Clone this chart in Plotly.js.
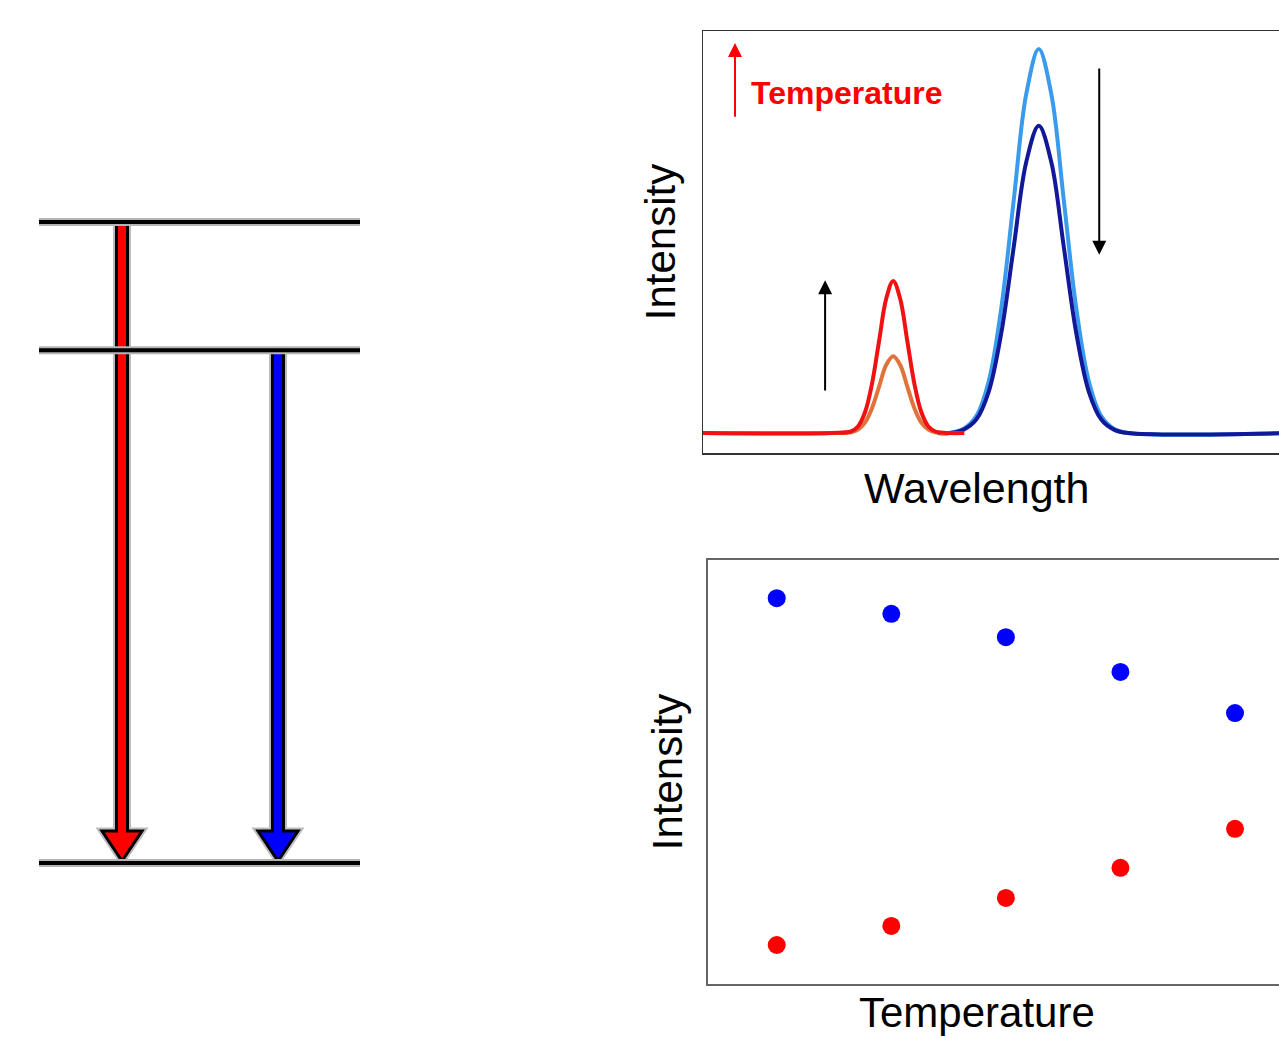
<!DOCTYPE html>
<html><head><meta charset="utf-8">
<script src="https://cdn.plot.ly/plotly-3.0.1.min.js"></script>
<style>html,body{margin:0;padding:0;overflow:hidden;background:#fff}#chart{width:1300px;height:1038px}</style>
</head><body><div id="chart"></div>
<script>
// ---------------- data ----------------
// energy level diagram (relative energies)
const levelEnergies = [0, 0.8, 1.0];
const transitionFrom = [2, 1];
const transitionTo = [0, 0];

// emission spectra (arbitrary wavelength units, normalised intensity)
const redWavelength = [0, 22, 25.2, 26.4, 27.6, 28.8, 30.0, 31.2, 32.4, 33.6, 34.8, 36.0, 37.2, 38.4, 39.6, 42, 44.5];
const redHighT = [0, 0, 0.004, 0.017, 0.054, 0.129, 0.240, 0.349, 0.396, 0.349, 0.240, 0.129, 0.054, 0.017, 0.004, 0, 0];
const redLowT  = [0, 0, 0.002, 0.009, 0.027, 0.065, 0.121, 0.177, 0.200, 0.177, 0.121, 0.065, 0.027, 0.009, 0.002, 0, 0];

const blueWavelength = [40, 42.0, 44.4, 46.55, 48.68, 50.81, 52.94, 55.07, 57.2, 59.33, 61.46, 63.59, 65.72, 67.85, 70.0, 72.4, 100];
const blueLowT  = [0, 0, 0.011, 0.044, 0.135, 0.325, 0.607, 0.883, 1.000, 0.883, 0.607, 0.325, 0.135, 0.044, 0.011, 0, 0];
const blueHighT = [0, 0, 0.009, 0.035, 0.108, 0.260, 0.485, 0.706, 0.800, 0.706, 0.485, 0.260, 0.108, 0.035, 0.009, 0, 0];

// intensity vs temperature
const temperature = [1, 2, 3, 4, 5];
const blueIntensity = [9.10, 8.73, 8.18, 7.36, 6.39];
const redIntensity  = [0.92, 1.37, 2.03, 2.74, 3.66];

// ---------------- layout helpers ----------------
const W = 1300, H = 1038;
const FONT = 'Liberation Sans, Arial, sans-serif';
const diagX = [-0.1215, 1.1246], diagY = [-0.2730, 1.3464];
const diagDomW = 400;
const pxX = diagDomW / (diagX[1] - diagX[0]);
const pxY = H / (diagY[1] - diagY[0]);
const arrowPos = [0.2586, 0.7445];
const arrowColors = ['#FF0000', '#0000FF'];

function arrowPath(xc, yTop, yBot) {
  const w = 5.5 / pxX, hw = 20 / pxX, hh = 30 / pxY, lift = 2 / pxY;
  const yb = yBot + lift;
  return `M${xc-w},${yTop} L${xc+w},${yTop} L${xc+w},${yb+hh} L${xc+hw},${yb+hh} L${xc},${yb} L${xc-hw},${yb+hh} L${xc-w},${yb+hh} Z`;
}

const shapes = [];
transitionFrom.forEach((f, i) => {
  const p = arrowPath(arrowPos[i], levelEnergies[f], levelEnergies[transitionTo[i]]);
  shapes.push({type:'path', path:p, xref:'x3', yref:'y3', layer:'below', fillcolor:arrowColors[i], line:{color:'#bcbcbc', width:7}});
  shapes.push({type:'path', path:p, xref:'x3', yref:'y3', layer:'below', fillcolor:arrowColors[i], line:{color:'#000000', width:3}});
});

const levX = [], levY = [];
levelEnergies.forEach((e, i) => { if (i) { levX.push(null); levY.push(null); } levX.push(0, 1); levY.push(e, e); });

const traces = [
  {x: levX, y: levY, xaxis:'x3', yaxis:'y3', mode:'lines', line:{color:'#b4b4b4', width:8}, hoverinfo:'skip'},
  {x: levX, y: levY, xaxis:'x3', yaxis:'y3', mode:'lines', line:{color:'#000000', width:4}, hoverinfo:'skip'},
  {x: blueWavelength, y: blueLowT, xaxis:'x', yaxis:'y', mode:'lines', line:{color:'#3A9AEC', width:4, shape:'spline'}},
  {x: blueWavelength, y: blueHighT, xaxis:'x', yaxis:'y', mode:'lines', line:{color:'#12189A', width:4, shape:'spline'}},
  {x: redWavelength, y: redLowT, xaxis:'x', yaxis:'y', mode:'lines', line:{color:'#E0723A', width:4, shape:'spline'}},
  {x: redWavelength, y: redHighT, xaxis:'x', yaxis:'y', mode:'lines', line:{color:'#F01212', width:4, shape:'spline'}},
  {x: temperature, y: blueIntensity, xaxis:'x2', yaxis:'y2', mode:'markers', marker:{color:'#0000FF', size:18}},
  {x: temperature, y: redIntensity, xaxis:'x2', yaxis:'y2', mode:'markers', marker:{color:'#FF0000', size:18}}
];

const yTitleFont = {family: FONT, size: 42, color: '#000'};
const xTitleFont = {family: FONT, size: 43, color: '#000'};
const baseAxis = {showgrid:false, zeroline:false, showticklabels:false, ticks:'', fixedrange:true};

const layout = {
  width: W, height: H, autosize: false,
  margin: {l:0, r:0, t:0, b:0, pad:0},
  paper_bgcolor: '#fff', plot_bgcolor: '#fff',
  showlegend: false,
  font: {family: FONT},
  xaxis: Object.assign({}, baseAxis, {domain:[703/W, 1290/W], range:[0, 100], anchor:'y',
    showline:true, mirror:true, linecolor:'#333', linewidth:1.5}),
  yaxis: Object.assign({}, baseAxis, {domain:[1-453/H, 1-31/H], range:[-0.052, 1.047], anchor:'x',
    showline:true, mirror:true, linecolor:'#333', linewidth:1.5,
    title:{text:'Intensity', font:yTitleFont, standoff:13}}),
  xaxis2: Object.assign({}, baseAxis, {domain:[708/W, 1290/W], range:[0.4, 5.48], anchor:'y2',
    showline:true, mirror:true, linecolor:'#666', linewidth:2}),
  yaxis2: Object.assign({}, baseAxis, {domain:[1-984/H, 1-560/H], range:[0, 10], anchor:'x2',
    showline:true, mirror:true, linecolor:'#666', linewidth:2,
    title:{text:'Intensity', font:yTitleFont, standoff:10}}),
  xaxis3: Object.assign({}, baseAxis, {domain:[0, diagDomW/W], range:diagX, anchor:'y3', visible:false}),
  yaxis3: Object.assign({}, baseAxis, {domain:[0, 1], range:diagY, anchor:'x3', visible:false}),
  shapes: shapes,
  annotations: [
    {xref:'paper', yref:'paper', x:977/W, y:1-488/H, xanchor:'center', yanchor:'middle', text:'Wavelength',
     showarrow:false, font:xTitleFont},
    {xref:'paper', yref:'paper', x:977/W, y:1-1012/H, xanchor:'center', yanchor:'middle', text:'Temperature',
     showarrow:false, font:{family: FONT, size: 42, color: '#000'}},
    {xref:'x', yref:'y', axref:'x', ayref:'y', x:5.45, y:1.016, ax:5.45, ay:0.82, text:'', showarrow:true,
     arrowhead:2, arrowsize:1.4, arrowwidth:2, arrowcolor:'#FF0000'},
    {xref:'x', yref:'y', x:7.9, y:0.885, xanchor:'left', yanchor:'middle', text:'<b>Temperature</b>', showarrow:false,
     font:{family:FONT, size:32, color:'#FF0000'}},
    {xref:'x', yref:'y', axref:'x', ayref:'y', x:20.8, y:0.398, ax:20.8, ay:0.107, text:'', showarrow:true,
     arrowhead:2, arrowsize:1.4, arrowwidth:2, arrowcolor:'#000'},
    {xref:'x', yref:'y', axref:'x', ayref:'y', x:67.5, y:0.464, ax:67.5, ay:0.953, text:'', showarrow:true,
     arrowhead:2, arrowsize:1.4, arrowwidth:2, arrowcolor:'#000'}
  ]
};

Plotly.newPlot('chart', traces, layout, {displayModeBar:false, staticPlot:true});
</script></body></html>
